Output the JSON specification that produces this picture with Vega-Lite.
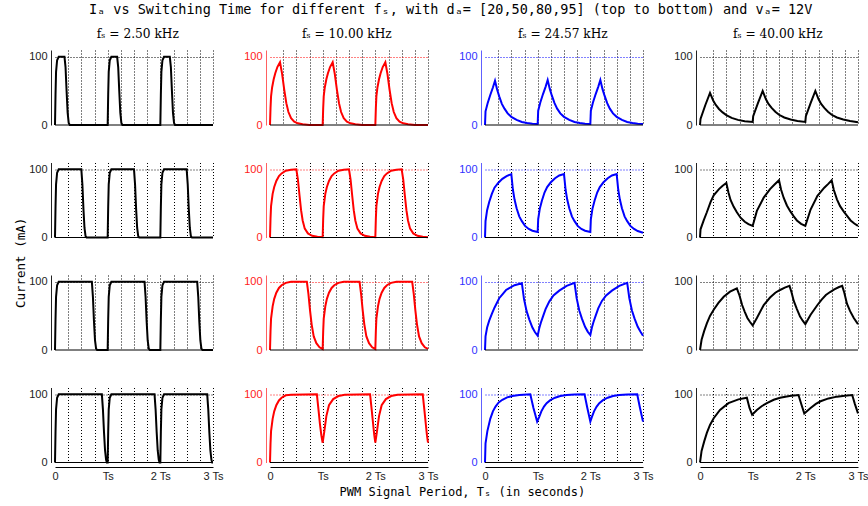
{
"$schema": "https://vega.github.io/schema/vega-lite/v6.json",
"background": "white",
"padding": {"left": 15, "right": 0, "top": 3, "bottom": 3},
"title": {"text": "Iₐ vs Switching Time for different fₛ, with dₐ= [20,50,80,95] (top to bottom) and vₐ= 12V", "font": "DejaVu Sans Mono", "fontSize": 13.5, "fontWeight": "normal", "color": "#000", "anchor": "middle", "offset": 11, "dx": 9},
"config": {
 "view": {"stroke": null},
 "axis": {"ticks": false, "labelFont": "Liberation Sans", "labelFontSize": 11, "labelPadding": 4, "gridDash": [1, 2], "gridWidth": 1, "labelFlush": false, "labelOverlap": false, "labelBound": false, "domainWidth": 1},
 "title": {"font": "DejaVu Serif", "fontSize": 12.2, "fontWeight": "normal", "color": "#000", "anchor": "middle"}
},
"datasets": {
"c1": [
{"d":20,"t":0,"i":0},{"d":20,"t":0.01,"i":45},{"d":20,"t":0.02,"i":78},{"d":20,"t":0.04,"i":95},{"d":20,"t":0.07,"i":100},{"d":20,"t":0.18,"i":100},{"d":20,"t":0.2,"i":85},{"d":20,"t":0.22,"i":50},{"d":20,"t":0.24,"i":18},{"d":20,"t":0.26,"i":3},{"d":20,"t":0.28,"i":0},
{"d":20,"t":1,"i":0},{"d":20,"t":1.01,"i":45},{"d":20,"t":1.02,"i":78},{"d":20,"t":1.04,"i":95},{"d":20,"t":1.07,"i":100},{"d":20,"t":1.18,"i":100},{"d":20,"t":1.2,"i":85},{"d":20,"t":1.22,"i":50},{"d":20,"t":1.24,"i":18},{"d":20,"t":1.26,"i":3},{"d":20,"t":1.28,"i":0},
{"d":20,"t":2,"i":0},{"d":20,"t":2.01,"i":45},{"d":20,"t":2.02,"i":78},{"d":20,"t":2.04,"i":95},{"d":20,"t":2.07,"i":100},{"d":20,"t":2.18,"i":100},{"d":20,"t":2.2,"i":85},{"d":20,"t":2.22,"i":50},{"d":20,"t":2.24,"i":18},{"d":20,"t":2.26,"i":3},{"d":20,"t":2.28,"i":0},{"d":20,"t":3,"i":0},
{"d":50,"t":0,"i":0},{"d":50,"t":0.01,"i":45},{"d":50,"t":0.02,"i":78},{"d":50,"t":0.04,"i":95},{"d":50,"t":0.07,"i":100},{"d":50,"t":0.5,"i":100},{"d":50,"t":0.52,"i":78},{"d":50,"t":0.54,"i":42},{"d":50,"t":0.56,"i":14},{"d":50,"t":0.58,"i":2},{"d":50,"t":0.6,"i":0},
{"d":50,"t":1,"i":0},{"d":50,"t":1.01,"i":45},{"d":50,"t":1.02,"i":78},{"d":50,"t":1.04,"i":95},{"d":50,"t":1.07,"i":100},{"d":50,"t":1.5,"i":100},{"d":50,"t":1.52,"i":78},{"d":50,"t":1.54,"i":42},{"d":50,"t":1.56,"i":14},{"d":50,"t":1.58,"i":2},{"d":50,"t":1.6,"i":0},
{"d":50,"t":2,"i":0},{"d":50,"t":2.01,"i":45},{"d":50,"t":2.02,"i":78},{"d":50,"t":2.04,"i":95},{"d":50,"t":2.07,"i":100},{"d":50,"t":2.5,"i":100},{"d":50,"t":2.52,"i":78},{"d":50,"t":2.54,"i":42},{"d":50,"t":2.56,"i":14},{"d":50,"t":2.58,"i":2},{"d":50,"t":2.6,"i":0},{"d":50,"t":3,"i":0},
{"d":80,"t":0,"i":0},{"d":80,"t":0.01,"i":45},{"d":80,"t":0.02,"i":78},{"d":80,"t":0.04,"i":95},{"d":80,"t":0.07,"i":100},{"d":80,"t":0.7,"i":100},{"d":80,"t":0.72,"i":78},{"d":80,"t":0.74,"i":42},{"d":80,"t":0.76,"i":14},{"d":80,"t":0.78,"i":2},{"d":80,"t":0.8,"i":0},
{"d":80,"t":1,"i":0},{"d":80,"t":1.01,"i":45},{"d":80,"t":1.02,"i":78},{"d":80,"t":1.04,"i":95},{"d":80,"t":1.07,"i":100},{"d":80,"t":1.7,"i":100},{"d":80,"t":1.72,"i":78},{"d":80,"t":1.74,"i":42},{"d":80,"t":1.76,"i":14},{"d":80,"t":1.78,"i":2},{"d":80,"t":1.8,"i":0},
{"d":80,"t":2,"i":0},{"d":80,"t":2.01,"i":45},{"d":80,"t":2.02,"i":78},{"d":80,"t":2.04,"i":95},{"d":80,"t":2.07,"i":100},{"d":80,"t":2.7,"i":100},{"d":80,"t":2.72,"i":78},{"d":80,"t":2.74,"i":42},{"d":80,"t":2.76,"i":14},{"d":80,"t":2.78,"i":2},{"d":80,"t":2.8,"i":0},{"d":80,"t":3,"i":0},
{"d":95,"t":0,"i":0},{"d":95,"t":0.01,"i":45},{"d":95,"t":0.02,"i":78},{"d":95,"t":0.04,"i":95},{"d":95,"t":0.07,"i":100},{"d":95,"t":0.89,"i":100},{"d":95,"t":0.91,"i":78},{"d":95,"t":0.93,"i":45},{"d":95,"t":0.95,"i":18},{"d":95,"t":0.97,"i":4},{"d":95,"t":0.985,"i":0},
{"d":95,"t":1,"i":0},{"d":95,"t":1.01,"i":45},{"d":95,"t":1.02,"i":78},{"d":95,"t":1.04,"i":95},{"d":95,"t":1.07,"i":100},{"d":95,"t":1.89,"i":100},{"d":95,"t":1.91,"i":78},{"d":95,"t":1.93,"i":45},{"d":95,"t":1.95,"i":18},{"d":95,"t":1.97,"i":4},{"d":95,"t":1.985,"i":0},
{"d":95,"t":2,"i":0},{"d":95,"t":2.01,"i":45},{"d":95,"t":2.02,"i":78},{"d":95,"t":2.04,"i":95},{"d":95,"t":2.07,"i":100},{"d":95,"t":2.89,"i":100},{"d":95,"t":2.91,"i":78},{"d":95,"t":2.93,"i":45},{"d":95,"t":2.95,"i":18},{"d":95,"t":2.97,"i":4},{"d":95,"t":2.985,"i":0},{"d":95,"t":3,"i":0}
],
"c2": [
{"d":20,"t":0,"i":0},{"d":20,"t":0.01,"i":25},{"d":20,"t":0.02,"i":42},{"d":20,"t":0.04,"i":55},{"d":20,"t":0.07,"i":67},{"d":20,"t":0.1,"i":76},{"d":20,"t":0.14,"i":85},{"d":20,"t":0.19,"i":92},{"d":20,"t":0.23,"i":75},{"d":20,"t":0.27,"i":52},{"d":20,"t":0.31,"i":32},{"d":20,"t":0.35,"i":19},{"d":20,"t":0.4,"i":10},{"d":20,"t":0.46,"i":5},{"d":20,"t":0.53,"i":2.5},{"d":20,"t":0.62,"i":1},{"d":20,"t":0.75,"i":0},
{"d":20,"t":1,"i":0},{"d":20,"t":1.01,"i":25},{"d":20,"t":1.02,"i":42},{"d":20,"t":1.04,"i":55},{"d":20,"t":1.07,"i":67},{"d":20,"t":1.1,"i":76},{"d":20,"t":1.14,"i":85},{"d":20,"t":1.19,"i":92},{"d":20,"t":1.23,"i":75},{"d":20,"t":1.27,"i":52},{"d":20,"t":1.31,"i":32},{"d":20,"t":1.35,"i":19},{"d":20,"t":1.4,"i":10},{"d":20,"t":1.46,"i":5},{"d":20,"t":1.53,"i":2.5},{"d":20,"t":1.62,"i":1},{"d":20,"t":1.75,"i":0},
{"d":20,"t":2,"i":0},{"d":20,"t":2.01,"i":25},{"d":20,"t":2.02,"i":42},{"d":20,"t":2.04,"i":55},{"d":20,"t":2.07,"i":67},{"d":20,"t":2.1,"i":76},{"d":20,"t":2.14,"i":85},{"d":20,"t":2.19,"i":92},{"d":20,"t":2.23,"i":75},{"d":20,"t":2.27,"i":52},{"d":20,"t":2.31,"i":32},{"d":20,"t":2.35,"i":19},{"d":20,"t":2.4,"i":10},{"d":20,"t":2.46,"i":5},{"d":20,"t":2.53,"i":2.5},{"d":20,"t":2.62,"i":1},{"d":20,"t":2.75,"i":0},{"d":20,"t":3,"i":0},
{"d":50,"t":0,"i":0},{"d":50,"t":0.01,"i":28},{"d":50,"t":0.02,"i":46},{"d":50,"t":0.05,"i":64},{"d":50,"t":0.08,"i":74},{"d":50,"t":0.12,"i":83},{"d":50,"t":0.17,"i":90},{"d":50,"t":0.22,"i":94},{"d":50,"t":0.3,"i":98},{"d":50,"t":0.4,"i":99.5},{"d":50,"t":0.5,"i":100},{"d":50,"t":0.53,"i":85},{"d":50,"t":0.56,"i":62},{"d":50,"t":0.59,"i":40},{"d":50,"t":0.62,"i":25},{"d":50,"t":0.66,"i":13},{"d":50,"t":0.72,"i":6},{"d":50,"t":0.8,"i":2.5},{"d":50,"t":0.9,"i":1},
{"d":50,"t":1,"i":0.5},{"d":50,"t":1.01,"i":28},{"d":50,"t":1.02,"i":46},{"d":50,"t":1.05,"i":64},{"d":50,"t":1.08,"i":74},{"d":50,"t":1.12,"i":83},{"d":50,"t":1.17,"i":90},{"d":50,"t":1.22,"i":94},{"d":50,"t":1.3,"i":98},{"d":50,"t":1.4,"i":99.5},{"d":50,"t":1.5,"i":100},{"d":50,"t":1.53,"i":85},{"d":50,"t":1.56,"i":62},{"d":50,"t":1.59,"i":40},{"d":50,"t":1.62,"i":25},{"d":50,"t":1.66,"i":13},{"d":50,"t":1.72,"i":6},{"d":50,"t":1.8,"i":2.5},{"d":50,"t":1.9,"i":1},
{"d":50,"t":2,"i":0.5},{"d":50,"t":2.01,"i":28},{"d":50,"t":2.02,"i":46},{"d":50,"t":2.05,"i":64},{"d":50,"t":2.08,"i":74},{"d":50,"t":2.12,"i":83},{"d":50,"t":2.17,"i":90},{"d":50,"t":2.22,"i":94},{"d":50,"t":2.3,"i":98},{"d":50,"t":2.4,"i":99.5},{"d":50,"t":2.5,"i":100},{"d":50,"t":2.53,"i":85},{"d":50,"t":2.56,"i":62},{"d":50,"t":2.59,"i":40},{"d":50,"t":2.62,"i":25},{"d":50,"t":2.66,"i":13},{"d":50,"t":2.72,"i":6},{"d":50,"t":2.8,"i":2.5},{"d":50,"t":2.9,"i":1},{"d":50,"t":3,"i":0.5},
{"d":80,"t":0,"i":0},{"d":80,"t":0.01,"i":28},{"d":80,"t":0.02,"i":46},{"d":80,"t":0.05,"i":64},{"d":80,"t":0.08,"i":75},{"d":80,"t":0.12,"i":84},{"d":80,"t":0.17,"i":91},{"d":80,"t":0.22,"i":95},{"d":80,"t":0.3,"i":98.5},{"d":80,"t":0.4,"i":100},{"d":80,"t":0.7,"i":100},{"d":80,"t":0.73,"i":82},{"d":80,"t":0.76,"i":58},{"d":80,"t":0.79,"i":38},{"d":80,"t":0.83,"i":20},{"d":80,"t":0.88,"i":10},{"d":80,"t":0.94,"i":4},
{"d":80,"t":1,"i":1.5},{"d":80,"t":1.01,"i":28},{"d":80,"t":1.02,"i":46},{"d":80,"t":1.05,"i":64},{"d":80,"t":1.08,"i":75},{"d":80,"t":1.12,"i":84},{"d":80,"t":1.17,"i":91},{"d":80,"t":1.22,"i":95},{"d":80,"t":1.3,"i":98.5},{"d":80,"t":1.4,"i":100},{"d":80,"t":1.7,"i":100},{"d":80,"t":1.73,"i":82},{"d":80,"t":1.76,"i":58},{"d":80,"t":1.79,"i":38},{"d":80,"t":1.83,"i":20},{"d":80,"t":1.88,"i":10},{"d":80,"t":1.94,"i":4},
{"d":80,"t":2,"i":1.5},{"d":80,"t":2.01,"i":28},{"d":80,"t":2.02,"i":46},{"d":80,"t":2.05,"i":64},{"d":80,"t":2.08,"i":75},{"d":80,"t":2.12,"i":84},{"d":80,"t":2.17,"i":91},{"d":80,"t":2.22,"i":95},{"d":80,"t":2.3,"i":98.5},{"d":80,"t":2.4,"i":100},{"d":80,"t":2.7,"i":100},{"d":80,"t":2.73,"i":82},{"d":80,"t":2.76,"i":58},{"d":80,"t":2.79,"i":38},{"d":80,"t":2.83,"i":20},{"d":80,"t":2.88,"i":10},{"d":80,"t":2.94,"i":4},{"d":80,"t":3,"i":1.5},
{"d":95,"t":0,"i":0},{"d":95,"t":0.01,"i":28},{"d":95,"t":0.02,"i":46},{"d":95,"t":0.05,"i":64},{"d":95,"t":0.08,"i":75},{"d":95,"t":0.12,"i":84},{"d":95,"t":0.17,"i":91},{"d":95,"t":0.22,"i":95},{"d":95,"t":0.3,"i":98.5},{"d":95,"t":0.4,"i":99.5},{"d":95,"t":0.89,"i":100},{"d":95,"t":0.92,"i":78},{"d":95,"t":0.95,"i":55},{"d":95,"t":0.975,"i":40},
{"d":95,"t":1,"i":29},{"d":95,"t":1.03,"i":45},{"d":95,"t":1.07,"i":68},{"d":95,"t":1.12,"i":84},{"d":95,"t":1.2,"i":93},{"d":95,"t":1.3,"i":97.5},{"d":95,"t":1.42,"i":99.5},{"d":95,"t":1.9,"i":100},{"d":95,"t":1.93,"i":78},{"d":95,"t":1.96,"i":55},{"d":95,"t":1.98,"i":40},
{"d":95,"t":2,"i":29},{"d":95,"t":2.03,"i":45},{"d":95,"t":2.07,"i":68},{"d":95,"t":2.12,"i":84},{"d":95,"t":2.2,"i":93},{"d":95,"t":2.3,"i":97.5},{"d":95,"t":2.42,"i":99.5},{"d":95,"t":2.9,"i":100},{"d":95,"t":2.93,"i":78},{"d":95,"t":2.96,"i":55},{"d":95,"t":2.98,"i":40},{"d":95,"t":3,"i":29}
],
"c3": [
{"d":20,"t":0,"i":0},{"d":20,"t":0.01,"i":20},{"d":20,"t":0.05,"i":32},{"d":20,"t":0.1,"i":44},{"d":20,"t":0.15,"i":55},{"d":20,"t":0.19,"i":65},{"d":20,"t":0.23,"i":52},{"d":20,"t":0.27,"i":42},{"d":20,"t":0.32,"i":31},{"d":20,"t":0.37,"i":24},{"d":20,"t":0.43,"i":17},{"d":20,"t":0.5,"i":12},{"d":20,"t":0.6,"i":7.5},{"d":20,"t":0.7,"i":4.5},{"d":20,"t":0.8,"i":3},{"d":20,"t":0.9,"i":2},
{"d":20,"t":1,"i":1.5},{"d":20,"t":1.01,"i":21},{"d":20,"t":1.05,"i":33},{"d":20,"t":1.1,"i":45},{"d":20,"t":1.15,"i":56},{"d":20,"t":1.19,"i":66},{"d":20,"t":1.23,"i":53},{"d":20,"t":1.27,"i":43},{"d":20,"t":1.32,"i":32},{"d":20,"t":1.37,"i":24},{"d":20,"t":1.43,"i":17},{"d":20,"t":1.5,"i":12},{"d":20,"t":1.6,"i":7.5},{"d":20,"t":1.7,"i":4.5},{"d":20,"t":1.8,"i":3},{"d":20,"t":1.9,"i":2},
{"d":20,"t":2,"i":1.5},{"d":20,"t":2.01,"i":21},{"d":20,"t":2.05,"i":33},{"d":20,"t":2.1,"i":45},{"d":20,"t":2.15,"i":56},{"d":20,"t":2.19,"i":66},{"d":20,"t":2.23,"i":53},{"d":20,"t":2.27,"i":43},{"d":20,"t":2.32,"i":32},{"d":20,"t":2.37,"i":24},{"d":20,"t":2.43,"i":17},{"d":20,"t":2.5,"i":12},{"d":20,"t":2.6,"i":7.5},{"d":20,"t":2.7,"i":4.5},{"d":20,"t":2.8,"i":3},{"d":20,"t":2.9,"i":2},{"d":20,"t":3,"i":1.5},
{"d":50,"t":0,"i":0},{"d":50,"t":0.01,"i":24},{"d":50,"t":0.04,"i":40},{"d":50,"t":0.08,"i":52},{"d":50,"t":0.13,"i":64},{"d":50,"t":0.18,"i":73},{"d":50,"t":0.25,"i":80},{"d":50,"t":0.33,"i":86},{"d":50,"t":0.41,"i":90},{"d":50,"t":0.5,"i":93},{"d":50,"t":0.53,"i":70},{"d":50,"t":0.56,"i":56},{"d":50,"t":0.6,"i":43},{"d":50,"t":0.65,"i":31},{"d":50,"t":0.7,"i":24},{"d":50,"t":0.76,"i":17},{"d":50,"t":0.83,"i":12.5},{"d":50,"t":0.9,"i":10},
{"d":50,"t":1,"i":8},{"d":50,"t":1.01,"i":27},{"d":50,"t":1.04,"i":42},{"d":50,"t":1.08,"i":54},{"d":50,"t":1.13,"i":66},{"d":50,"t":1.18,"i":74},{"d":50,"t":1.25,"i":81},{"d":50,"t":1.33,"i":87},{"d":50,"t":1.41,"i":91},{"d":50,"t":1.5,"i":93},{"d":50,"t":1.53,"i":70},{"d":50,"t":1.56,"i":56},{"d":50,"t":1.6,"i":43},{"d":50,"t":1.65,"i":31},{"d":50,"t":1.7,"i":24},{"d":50,"t":1.76,"i":17},{"d":50,"t":1.83,"i":12.5},{"d":50,"t":1.9,"i":10},
{"d":50,"t":2,"i":8},{"d":50,"t":2.01,"i":27},{"d":50,"t":2.04,"i":42},{"d":50,"t":2.08,"i":54},{"d":50,"t":2.13,"i":66},{"d":50,"t":2.18,"i":74},{"d":50,"t":2.25,"i":81},{"d":50,"t":2.33,"i":87},{"d":50,"t":2.41,"i":91},{"d":50,"t":2.5,"i":93},{"d":50,"t":2.53,"i":70},{"d":50,"t":2.56,"i":56},{"d":50,"t":2.6,"i":43},{"d":50,"t":2.65,"i":31},{"d":50,"t":2.7,"i":24},{"d":50,"t":2.76,"i":17},{"d":50,"t":2.83,"i":12.5},{"d":50,"t":2.9,"i":9.5},{"d":50,"t":3,"i":7},
{"d":80,"t":0,"i":0},{"d":80,"t":0.01,"i":20},{"d":80,"t":0.04,"i":33},{"d":80,"t":0.08,"i":43},{"d":80,"t":0.13,"i":53},{"d":80,"t":0.18,"i":62},{"d":80,"t":0.27,"i":76},{"d":80,"t":0.4,"i":88},{"d":80,"t":0.56,"i":95},{"d":80,"t":0.7,"i":98},{"d":80,"t":0.74,"i":75},{"d":80,"t":0.79,"i":57},{"d":80,"t":0.84,"i":45},{"d":80,"t":0.9,"i":33},{"d":80,"t":0.95,"i":26},
{"d":80,"t":1,"i":21},{"d":80,"t":1.03,"i":32},{"d":80,"t":1.06,"i":40},{"d":80,"t":1.1,"i":49},{"d":80,"t":1.15,"i":60},{"d":80,"t":1.22,"i":71},{"d":80,"t":1.3,"i":80},{"d":80,"t":1.41,"i":87},{"d":80,"t":1.55,"i":94},{"d":80,"t":1.7,"i":98.5},{"d":80,"t":1.74,"i":76},{"d":80,"t":1.79,"i":58},{"d":80,"t":1.84,"i":46},{"d":80,"t":1.9,"i":34},{"d":80,"t":1.95,"i":27},
{"d":80,"t":2,"i":22},{"d":80,"t":2.03,"i":33},{"d":80,"t":2.06,"i":41},{"d":80,"t":2.1,"i":50},{"d":80,"t":2.15,"i":61},{"d":80,"t":2.22,"i":72},{"d":80,"t":2.3,"i":80},{"d":80,"t":2.41,"i":87},{"d":80,"t":2.55,"i":94},{"d":80,"t":2.7,"i":98.5},{"d":80,"t":2.74,"i":76},{"d":80,"t":2.79,"i":58},{"d":80,"t":2.84,"i":46},{"d":80,"t":2.9,"i":34},{"d":80,"t":2.95,"i":27},{"d":80,"t":3,"i":21},
{"d":95,"t":0,"i":0},{"d":95,"t":0.01,"i":28},{"d":95,"t":0.045,"i":46},{"d":95,"t":0.1,"i":64},{"d":95,"t":0.15,"i":75},{"d":95,"t":0.2,"i":82},{"d":95,"t":0.26,"i":88},{"d":95,"t":0.33,"i":92},{"d":95,"t":0.42,"i":95.5},{"d":95,"t":0.52,"i":97.5},{"d":95,"t":0.65,"i":99},{"d":95,"t":0.86,"i":100},{"d":95,"t":0.92,"i":80},
{"d":95,"t":0.99,"i":60},{"d":95,"t":1.03,"i":67},{"d":95,"t":1.07,"i":75},{"d":95,"t":1.12,"i":82},{"d":95,"t":1.17,"i":87},{"d":95,"t":1.24,"i":91.5},{"d":95,"t":1.33,"i":95},{"d":95,"t":1.43,"i":97.5},{"d":95,"t":1.55,"i":99},{"d":95,"t":1.7,"i":99.8},{"d":95,"t":1.89,"i":100},{"d":95,"t":1.94,"i":81},
{"d":95,"t":2,"i":60},{"d":95,"t":2.03,"i":67},{"d":95,"t":2.07,"i":75},{"d":95,"t":2.12,"i":82},{"d":95,"t":2.17,"i":87},{"d":95,"t":2.24,"i":91.5},{"d":95,"t":2.33,"i":95},{"d":95,"t":2.43,"i":97.5},{"d":95,"t":2.55,"i":99},{"d":95,"t":2.7,"i":99.8},{"d":95,"t":2.89,"i":100},{"d":95,"t":2.94,"i":81},{"d":95,"t":3,"i":60}
],
"c4": [
{"d":20,"t":0,"i":0},{"d":20,"t":0.01,"i":9},{"d":20,"t":0.1,"i":29},{"d":20,"t":0.19,"i":47},{"d":20,"t":0.25,"i":36},{"d":20,"t":0.3,"i":29.5},{"d":20,"t":0.36,"i":23.5},{"d":20,"t":0.43,"i":18.5},{"d":20,"t":0.5,"i":14.5},{"d":20,"t":0.6,"i":10.5},{"d":20,"t":0.72,"i":7.5},{"d":20,"t":0.85,"i":5.5},
{"d":20,"t":1,"i":4.5},{"d":20,"t":1.01,"i":13},{"d":20,"t":1.1,"i":32},{"d":20,"t":1.19,"i":50},{"d":20,"t":1.25,"i":38},{"d":20,"t":1.3,"i":31},{"d":20,"t":1.36,"i":25},{"d":20,"t":1.43,"i":19.5},{"d":20,"t":1.5,"i":15},{"d":20,"t":1.6,"i":11},{"d":20,"t":1.72,"i":8},{"d":20,"t":1.85,"i":6},
{"d":20,"t":2,"i":4.5},{"d":20,"t":2.01,"i":13},{"d":20,"t":2.1,"i":32},{"d":20,"t":2.19,"i":50},{"d":20,"t":2.25,"i":38},{"d":20,"t":2.3,"i":31},{"d":20,"t":2.36,"i":25},{"d":20,"t":2.43,"i":19.5},{"d":20,"t":2.5,"i":15},{"d":20,"t":2.6,"i":11},{"d":20,"t":2.72,"i":8},{"d":20,"t":2.85,"i":6},{"d":20,"t":3,"i":4},
{"d":50,"t":0,"i":0},{"d":50,"t":0.01,"i":12},{"d":50,"t":0.07,"i":25},{"d":50,"t":0.13,"i":37},{"d":50,"t":0.2,"i":52},{"d":50,"t":0.26,"i":62},{"d":50,"t":0.36,"i":71},{"d":50,"t":0.43,"i":76},{"d":50,"t":0.5,"i":80},{"d":50,"t":0.54,"i":66},{"d":50,"t":0.58,"i":55},{"d":50,"t":0.64,"i":45},{"d":50,"t":0.7,"i":37},{"d":50,"t":0.77,"i":29},{"d":50,"t":0.85,"i":23},{"d":50,"t":0.92,"i":19.5},
{"d":50,"t":1,"i":17},{"d":50,"t":1.08,"i":39},{"d":50,"t":1.21,"i":58.5},{"d":50,"t":1.33,"i":71},{"d":50,"t":1.42,"i":78},{"d":50,"t":1.5,"i":84},{"d":50,"t":1.54,"i":70},{"d":50,"t":1.59,"i":58},{"d":50,"t":1.65,"i":47},{"d":50,"t":1.71,"i":39},{"d":50,"t":1.78,"i":31},{"d":50,"t":1.84,"i":25},{"d":50,"t":1.92,"i":20},
{"d":50,"t":2,"i":17},{"d":50,"t":2.1,"i":41},{"d":50,"t":2.23,"i":61},{"d":50,"t":2.36,"i":73},{"d":50,"t":2.44,"i":79},{"d":50,"t":2.5,"i":84},{"d":50,"t":2.54,"i":70},{"d":50,"t":2.6,"i":56},{"d":50,"t":2.66,"i":46},{"d":50,"t":2.73,"i":38},{"d":50,"t":2.8,"i":31},{"d":50,"t":2.86,"i":25},{"d":50,"t":2.93,"i":20.5},{"d":50,"t":3,"i":17},
{"d":80,"t":0,"i":0},{"d":80,"t":0.03,"i":15},{"d":80,"t":0.08,"i":28},{"d":80,"t":0.13,"i":39},{"d":80,"t":0.19,"i":50},{"d":80,"t":0.26,"i":59},{"d":80,"t":0.35,"i":69},{"d":80,"t":0.45,"i":78},{"d":80,"t":0.57,"i":85.5},{"d":80,"t":0.7,"i":90.5},{"d":80,"t":0.75,"i":80},{"d":80,"t":0.8,"i":66},{"d":80,"t":0.85,"i":56},{"d":80,"t":0.9,"i":47},{"d":80,"t":0.95,"i":41},
{"d":80,"t":1,"i":36},{"d":80,"t":1.08,"i":47},{"d":80,"t":1.21,"i":66},{"d":80,"t":1.33,"i":77},{"d":80,"t":1.43,"i":84},{"d":80,"t":1.52,"i":88},{"d":80,"t":1.61,"i":91.5},{"d":80,"t":1.7,"i":94},{"d":80,"t":1.74,"i":84},{"d":80,"t":1.78,"i":72},{"d":80,"t":1.84,"i":60},{"d":80,"t":1.9,"i":49},{"d":80,"t":1.95,"i":43},
{"d":80,"t":2,"i":38},{"d":80,"t":2.1,"i":51.7},{"d":80,"t":2.23,"i":66},{"d":80,"t":2.31,"i":74},{"d":80,"t":2.39,"i":80.7},{"d":80,"t":2.47,"i":85},{"d":80,"t":2.55,"i":89},{"d":80,"t":2.63,"i":92},{"d":80,"t":2.7,"i":94},{"d":80,"t":2.74,"i":84},{"d":80,"t":2.79,"i":68},{"d":80,"t":2.85,"i":57},{"d":80,"t":2.92,"i":47},{"d":80,"t":3,"i":38},
{"d":95,"t":0,"i":0},{"d":95,"t":0.03,"i":17},{"d":95,"t":0.08,"i":31},{"d":95,"t":0.13,"i":43.5},{"d":95,"t":0.19,"i":55},{"d":95,"t":0.26,"i":65},{"d":95,"t":0.38,"i":77},{"d":95,"t":0.54,"i":87},{"d":95,"t":0.73,"i":92.6},{"d":95,"t":0.89,"i":95},{"d":95,"t":0.94,"i":80},
{"d":95,"t":0.99,"i":70},{"d":95,"t":1.08,"i":77},{"d":95,"t":1.17,"i":82.5},{"d":95,"t":1.27,"i":87},{"d":95,"t":1.4,"i":92},{"d":95,"t":1.52,"i":95},{"d":95,"t":1.7,"i":97.5},{"d":95,"t":1.87,"i":99},{"d":95,"t":1.93,"i":84},
{"d":95,"t":1.98,"i":72},{"d":95,"t":2.1,"i":80},{"d":95,"t":2.2,"i":86},{"d":95,"t":2.29,"i":89.8},{"d":95,"t":2.44,"i":94},{"d":95,"t":2.6,"i":96.6},{"d":95,"t":2.75,"i":98},{"d":95,"t":2.89,"i":99},{"d":95,"t":2.94,"i":86},{"d":95,"t":3,"i":72}
]
},
"hconcat": [{
 "title": {"text": "Current (mA)", "orient": "left", "font": "DejaVu Sans Mono", "fontSize": 12.5, "offset": 1},
 "vconcat": [{
  "title": {"text": "PWM Signal Period, Tₛ (in seconds)", "orient": "bottom", "font": "DejaVu Sans Mono", "fontSize": 12, "offset": 6, "dx": 14},
  "spacing": 19,
  "hconcat": [
  {"title": {"text": "fₛ = 2.50 kHz", "offset": 10, "dx": 12},
   "vconcat": [{
   "data": {"name": "c1"},
   "spacing": {"row": 33.5},
   "facet": {"row": {"field": "d", "type": "ordinal", "sort": [20, 50, 80, 95], "header": {"title": null, "labels": false}}},
   "spec": {"width": 158, "height": 75, "layer": [
    {"mark": {"type": "line", "color": "#000", "strokeWidth": 2},
     "encoding": {
      "x": {"field": "t", "type": "quantitative", "scale": {"domain": [0, 3], "nice": false}, "axis": {"values": [0, 0.25, 0.5, 0.75, 1, 1.25, 1.5, 1.75, 2, 2.25, 2.5, 2.75, 3], "labelExpr": "datum.value == 0 ? '0' : datum.value == 1 ? 'Ts' : datum.value == 2 ? '2 Ts' : datum.value == 3 ? '3 Ts' : ''", "title": null, "grid": true, "gridColor": "#000", "gridOpacity": {"condition": {"test": "datum.value == 0", "value": 0}, "value": 1}, "domainColor": "#000", "labelColor": "#222", "labelPadding": 3}},
      "y": {"field": "i", "type": "quantitative", "scale": {"domain": [0, 110], "nice": false}, "axis": {"values": [0, 50, 100], "title": null, "grid": true, "gridColor": "#000", "gridOpacity": {"condition": {"test": "datum.value == 0", "value": 0}, "value": 1}, "domainColor": "#222", "labelColor": "#222"}}
     }},
    {"transform": [{"aggregate": [{"op": "count", "as": "n"}], "groupby": ["d"]}], "mark": {"type": "rule", "color": "#000", "strokeWidth": 1}, "encoding": {"y": {"datum": 0}}}
   ]}
  }]},
  {"title": {"text": "fₛ = 10.00 kHz", "offset": 10, "dx": 6},
   "vconcat": [{
   "data": {"name": "c2"},
   "spacing": {"row": 33.5},
   "facet": {"row": {"field": "d", "type": "ordinal", "sort": [20, 50, 80, 95], "header": {"title": null, "labels": false}}},
   "spec": {"width": 158, "height": 75, "layer": [
    {"mark": {"type": "line", "color": "#ff0000", "strokeWidth": 2},
     "encoding": {
      "x": {"field": "t", "type": "quantitative", "scale": {"domain": [0, 3], "nice": false}, "axis": {"values": [0, 0.25, 0.5, 0.75, 1, 1.25, 1.5, 1.75, 2, 2.25, 2.5, 2.75, 3], "labelExpr": "datum.value == 0 ? '0' : datum.value == 1 ? 'Ts' : datum.value == 2 ? '2 Ts' : datum.value == 3 ? '3 Ts' : ''", "title": null, "grid": true, "gridColor": "#000", "gridOpacity": {"condition": {"test": "datum.value == 0", "value": 0}, "value": 1}, "domainColor": "#000", "labelColor": "#222", "labelPadding": 3}},
      "y": {"field": "i", "type": "quantitative", "scale": {"domain": [0, 110], "nice": false}, "axis": {"values": [0, 50, 100], "title": null, "grid": true, "gridColor": "#ff0000", "gridOpacity": {"condition": {"test": "datum.value == 0", "value": 0}, "value": 1}, "domainColor": "#ff6060", "labelColor": "#ff2020"}}
     }},
    {"transform": [{"aggregate": [{"op": "count", "as": "n"}], "groupby": ["d"]}], "mark": {"type": "rule", "color": "#000", "strokeWidth": 1}, "encoding": {"y": {"datum": 0}}}
   ]}
  }]},
  {"title": {"text": "fₛ = 24.57 kHz", "offset": 10, "dx": 7},
   "vconcat": [{
   "data": {"name": "c3"},
   "spacing": {"row": 33.5},
   "facet": {"row": {"field": "d", "type": "ordinal", "sort": [20, 50, 80, 95], "header": {"title": null, "labels": false}}},
   "spec": {"width": 158, "height": 75, "layer": [
    {"mark": {"type": "line", "color": "#0000ff", "strokeWidth": 2},
     "encoding": {
      "x": {"field": "t", "type": "quantitative", "scale": {"domain": [0, 3], "nice": false}, "axis": {"values": [0, 0.25, 0.5, 0.75, 1, 1.25, 1.5, 1.75, 2, 2.25, 2.5, 2.75, 3], "labelExpr": "datum.value == 0 ? '0' : datum.value == 1 ? 'Ts' : datum.value == 2 ? '2 Ts' : datum.value == 3 ? '3 Ts' : ''", "title": null, "grid": true, "gridColor": "#000", "gridOpacity": {"condition": {"test": "datum.value == 0", "value": 0}, "value": 1}, "domainColor": "#000", "labelColor": "#222", "labelPadding": 3}},
      "y": {"field": "i", "type": "quantitative", "scale": {"domain": [0, 110], "nice": false}, "axis": {"values": [0, 50, 100], "title": null, "grid": true, "gridColor": "#0000ff", "gridOpacity": {"condition": {"test": "datum.value == 0", "value": 0}, "value": 1}, "domainColor": "#6060ff", "labelColor": "#3030ff"}}
     }},
    {"transform": [{"aggregate": [{"op": "count", "as": "n"}], "groupby": ["d"]}], "mark": {"type": "rule", "color": "#000", "strokeWidth": 1}, "encoding": {"y": {"datum": 0}}}
   ]}
  }]},
  {"title": {"text": "fₛ = 40.00 kHz", "offset": 10, "dx": 7},
   "vconcat": [{
   "data": {"name": "c4"},
   "spacing": {"row": 33.5},
   "facet": {"row": {"field": "d", "type": "ordinal", "sort": [20, 50, 80, 95], "header": {"title": null, "labels": false}}},
   "spec": {"width": 158, "height": 75, "layer": [
    {"mark": {"type": "line", "color": "#000", "strokeWidth": 2},
     "encoding": {
      "x": {"field": "t", "type": "quantitative", "scale": {"domain": [0, 3], "nice": false}, "axis": {"values": [0, 0.25, 0.5, 0.75, 1, 1.25, 1.5, 1.75, 2, 2.25, 2.5, 2.75, 3], "labelExpr": "datum.value == 0 ? '0' : datum.value == 1 ? 'Ts' : datum.value == 2 ? '2 Ts' : datum.value == 3 ? '3 Ts' : ''", "title": null, "grid": true, "gridColor": "#000", "gridOpacity": {"condition": {"test": "datum.value == 0", "value": 0}, "value": 1}, "domainColor": "#000", "labelColor": "#222", "labelPadding": 3}},
      "y": {"field": "i", "type": "quantitative", "scale": {"domain": [0, 110], "nice": false}, "axis": {"values": [0, 50, 100], "title": null, "grid": true, "gridColor": "#000", "gridOpacity": {"condition": {"test": "datum.value == 0", "value": 0}, "value": 1}, "domainColor": "#222", "labelColor": "#222"}}
     }},
    {"transform": [{"aggregate": [{"op": "count", "as": "n"}], "groupby": ["d"]}], "mark": {"type": "rule", "color": "#000", "strokeWidth": 1}, "encoding": {"y": {"datum": 0}}}
   ]}
  }]}
  ]
 }]
}]
}
